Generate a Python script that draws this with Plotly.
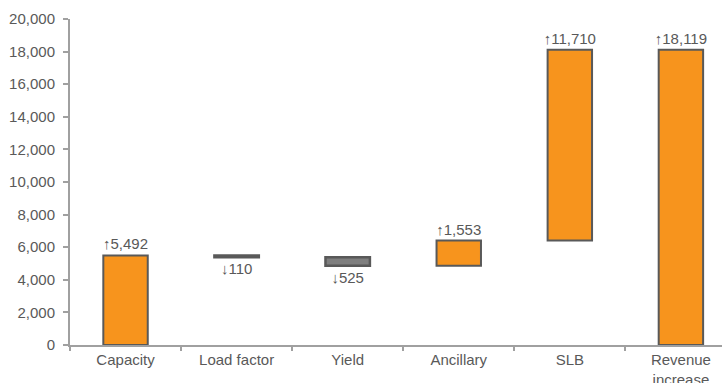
import plotly.graph_objects as go

categories = ["Capacity", "Load factor", "Yield", "Ancillary", "SLB", "Revenue<br>increase"]
changes = [5492, -110, -525, 1553, 11710, 18119]
measures = ["relative", "relative", "relative", "relative", "relative", "total"]
labels = ["↑5,492", "↓110", "↓525", "↑1,553", "↑11,710", "↑18,119"]
y_ticks = list(range(0, 20001, 2000))

ORANGE = "#F7941D"
OUTLINE = "#595959"
GRAY = "#7F7F7F"
TXT = "#595959"
AXIS = "#A0A0A0"

fig = go.Figure(go.Waterfall(
    x=categories,
    y=changes,
    measure=measures,
    text=labels,
    textposition="outside",
    constraintext="none",
    textfont=dict(family="Liberation Sans, Arial", size=15, color=TXT),
    cliponaxis=False,
    width=0.4,
    connector=dict(visible=False),
    increasing=dict(marker=dict(color=ORANGE, line=dict(color=OUTLINE, width=2))),
    decreasing=dict(marker=dict(color=GRAY, line=dict(color=OUTLINE, width=2.5))),
    totals=dict(marker=dict(color=ORANGE, line=dict(color=OUTLINE, width=2))),
))

fig.update_layout(
    width=722, height=383,
    margin=dict(l=70, r=0, t=19, b=38),
    plot_bgcolor="white", paper_bgcolor="white",
    showlegend=False,
    font=dict(family="Liberation Sans, Arial", size=15, color=TXT),
)
fig.update_yaxes(
    range=[0, 20000], tickvals=y_ticks, tickformat=",",
    showgrid=False, zeroline=False, automargin=False,
    showline=True, linecolor=AXIS, linewidth=2,
    ticks="outside", ticklen=5, tickcolor=AXIS, tickwidth=2,
    ticklabelstandoff=5,
    tickfont=dict(size=15, color=TXT),
)
fig.update_xaxes(
    range=[-0.5, 5.37], automargin=False,
    showgrid=False, showline=True, linecolor=AXIS, linewidth=2,
    ticks="outside", ticklen=4, tickcolor=AXIS, tickwidth=2,
    tickson="boundaries",
    tickfont=dict(size=15, color=TXT),
)

fig.write_html("out.html")
